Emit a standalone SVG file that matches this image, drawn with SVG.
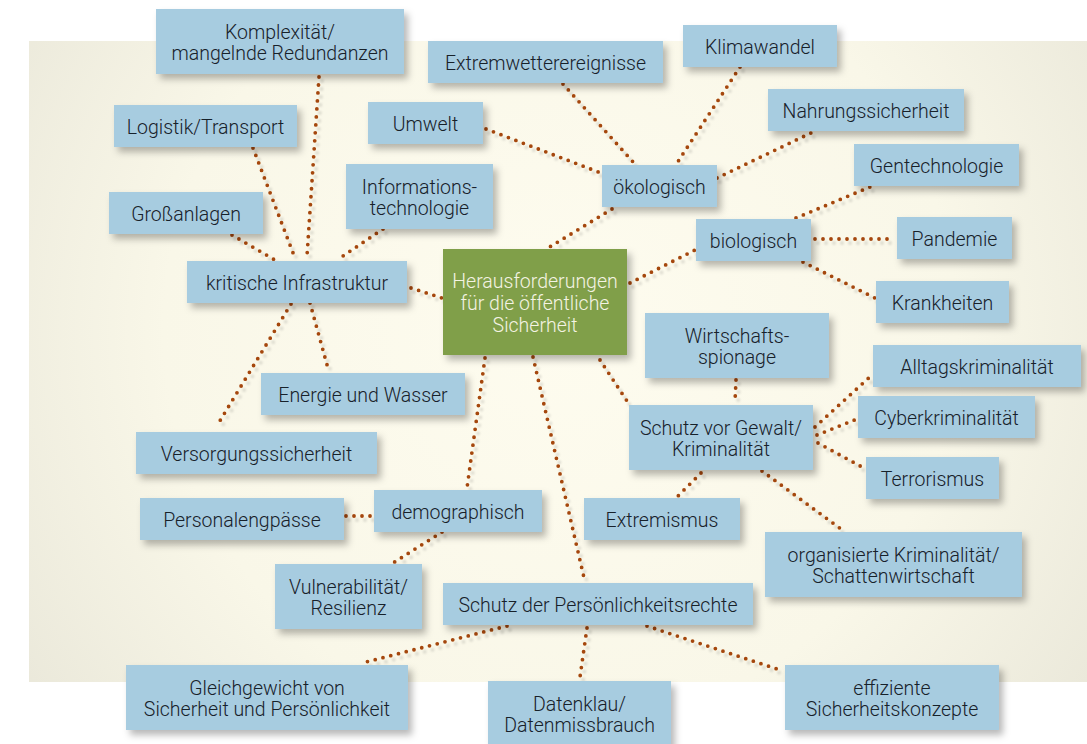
<svg xmlns="http://www.w3.org/2000/svg" width="1087" height="744" viewBox="0 0 1087 744">
<defs>
<radialGradient id="bg" cx="560" cy="330" r="720" gradientUnits="userSpaceOnUse">
<stop offset="0" stop-color="#fefcef"/>
<stop offset="0.55" stop-color="#f9f7e8"/>
<stop offset="1" stop-color="#e6e4d6"/>
</radialGradient>
<filter id="sh" x="-20%" y="-30%" width="150%" height="180%">
<feDropShadow dx="4" dy="5" stdDeviation="3.5" flood-color="#000" flood-opacity="0.28"/>
</filter>
<filter id="lsh" x="-10%" y="-10%" width="130%" height="130%">
<feDropShadow dx="3" dy="4" stdDeviation="1" flood-color="#000" flood-opacity="0.12"/>
</filter>
</defs>
<style>
.b{fill:#a7cce0}
.c{fill:#809f48}
.t{font-family:Roboto,"Liberation Sans",sans-serif;font-weight:300;font-size:19.5px;fill:#17212a;text-anchor:middle}
.w{fill:#f4f3e3}
#connectors line{stroke:#a5470c;stroke-width:3.8;stroke-linecap:round;stroke-dasharray:0 8;fill:none}
</style>
<rect x="0" y="0" width="1087" height="744" fill="#ffffff"/>
<rect x="29" y="41" width="1058" height="641" fill="url(#bg)"/>
<g id="connectors" filter="url(#lsh)">
<line x1="319" y1="77" x2="307" y2="256"/>
<line x1="253" y1="148" x2="295" y2="258"/>
<line x1="232" y1="235" x2="275" y2="260"/>
<line x1="383" y1="229" x2="340" y2="258"/>
<line x1="411" y1="288" x2="442" y2="298"/>
<line x1="310" y1="303" x2="329" y2="372"/>
<line x1="291" y1="304" x2="218" y2="424"/>
<line x1="486" y1="129" x2="601" y2="173"/>
<line x1="563" y1="84" x2="634" y2="163"/>
<line x1="740" y1="67" x2="677" y2="163"/>
<line x1="717" y1="178" x2="813" y2="132"/>
<line x1="612" y1="209" x2="548" y2="248"/>
<line x1="630" y1="283" x2="695" y2="250"/>
<line x1="796" y1="218" x2="870" y2="187"/>
<line x1="815" y1="239" x2="892" y2="239"/>
<line x1="803" y1="262" x2="875" y2="298"/>
<line x1="600" y1="360" x2="627" y2="401"/>
<line x1="736" y1="380" x2="735" y2="402"/>
<line x1="701" y1="473" x2="678" y2="496"/>
<line x1="762" y1="471" x2="841" y2="529"/>
<line x1="815" y1="427" x2="872" y2="375"/>
<line x1="817" y1="435" x2="857" y2="419"/>
<line x1="818" y1="443" x2="862" y2="467"/>
<line x1="485" y1="358" x2="467" y2="488"/>
<line x1="533" y1="357" x2="585" y2="582"/>
<line x1="370" y1="516" x2="345" y2="516"/>
<line x1="442" y1="532" x2="393" y2="563"/>
<line x1="507" y1="626" x2="362" y2="663"/>
<line x1="587" y1="628" x2="580" y2="677"/>
<line x1="647" y1="626" x2="783" y2="671"/>
</g>
<g id="komplexitaet"><rect class="b" x="156" y="9" width="248" height="65" filter="url(#sh)"/><text class="t" x="280" y="39">Komplexität/</text><text class="t" x="280" y="60">mangelnde Redundanzen</text></g>
<g id="logistik"><rect class="b" x="114" y="105" width="183" height="42" filter="url(#sh)"/><text class="t" x="205.5" y="134">Logistik/Transport</text></g>
<g id="grossanlagen"><rect class="b" x="109" y="192" width="154" height="42" filter="url(#sh)"/><text class="t" x="186" y="221">Großanlagen</text></g>
<g id="umwelt"><rect class="b" x="368" y="102" width="115" height="42" filter="url(#sh)"/><text class="t" x="425.5" y="131">Umwelt</text></g>
<g id="informationstechnologie"><rect class="b" x="346" y="164" width="147" height="65" filter="url(#sh)"/><text class="t" x="419.5" y="194">Informations-</text><text class="t" x="419.5" y="215">technologie</text></g>
<g id="kritische-infrastruktur"><rect class="b" x="187" y="261" width="220" height="42" filter="url(#sh)"/><text class="t" x="297" y="290">kritische Infrastruktur</text></g>
<g id="extremwetter"><rect class="b" x="428" y="41" width="235" height="42" filter="url(#sh)"/><text class="t" x="545.5" y="70">Extremwetterereignisse</text></g>
<g id="klimawandel"><rect class="b" x="683" y="25" width="154" height="42" filter="url(#sh)"/><text class="t" x="760" y="54">Klimawandel</text></g>
<g id="oekologisch"><rect class="b" x="602" y="165" width="115" height="42" filter="url(#sh)"/><text class="t" x="659.5" y="194">ökologisch</text></g>
<g id="center"><rect class="c" x="443" y="249" width="184" height="106" filter="url(#sh)"/><text class="t w" x="535" y="288">Herausforderungen</text><text class="t w" x="535" y="310">für die öffentliche</text><text class="t w" x="535" y="332">Sicherheit</text></g>
<g id="nahrungssicherheit"><rect class="b" x="768" y="89" width="196" height="42" filter="url(#sh)"/><text class="t" x="866" y="118">Nahrungssicherheit</text></g>
<g id="gentechnologie"><rect class="b" x="854" y="144" width="165" height="42" filter="url(#sh)"/><text class="t" x="936.5" y="173">Gentechnologie</text></g>
<g id="biologisch"><rect class="b" x="696" y="219" width="115" height="42" filter="url(#sh)"/><text class="t" x="753.5" y="248">biologisch</text></g>
<g id="pandemie"><rect class="b" x="897" y="217" width="115" height="42" filter="url(#sh)"/><text class="t" x="954.5" y="246">Pandemie</text></g>
<g id="krankheiten"><rect class="b" x="876" y="281" width="133" height="42" filter="url(#sh)"/><text class="t" x="942.5" y="310">Krankheiten</text></g>
<g id="wirtschaftsspionage"><rect class="b" x="645" y="313" width="184" height="65" filter="url(#sh)"/><text class="t" x="737" y="343">Wirtschafts-</text><text class="t" x="737" y="364">spionage</text></g>
<g id="schutz-gewalt"><rect class="b" x="629" y="405" width="184" height="65" filter="url(#sh)"/><text class="t" x="721" y="435">Schutz vor Gewalt/</text><text class="t" x="721" y="456">Kriminalität</text></g>
<g id="extremismus"><rect class="b" x="584" y="498" width="156" height="42" filter="url(#sh)"/><text class="t" x="662" y="527">Extremismus</text></g>
<g id="energie-wasser"><rect class="b" x="261" y="373" width="204" height="42" filter="url(#sh)"/><text class="t" x="363" y="402">Energie und Wasser</text></g>
<g id="versorgungssicherheit"><rect class="b" x="136" y="432" width="241" height="42" filter="url(#sh)"/><text class="t" x="256.5" y="461">Versorgungssicherheit</text></g>
<g id="demographisch"><rect class="b" x="374" y="490" width="168" height="42" filter="url(#sh)"/><text class="t" x="458" y="519">demographisch</text></g>
<g id="personalengpaesse"><rect class="b" x="140" y="498" width="204" height="42" filter="url(#sh)"/><text class="t" x="242" y="527">Personalengpässe</text></g>
<g id="alltagskriminalitaet"><rect class="b" x="873" y="345" width="208" height="42" filter="url(#sh)"/><text class="t" x="977" y="374">Alltagskriminalität</text></g>
<g id="cyberkriminalitaet"><rect class="b" x="858" y="396" width="177" height="42" filter="url(#sh)"/><text class="t" x="946.5" y="425">Cyberkriminalität</text></g>
<g id="terrorismus"><rect class="b" x="866" y="457" width="133" height="42" filter="url(#sh)"/><text class="t" x="932.5" y="486">Terrorismus</text></g>
<g id="organisierte-kriminalitaet"><rect class="b" x="765" y="532" width="257" height="65" filter="url(#sh)"/><text class="t" x="893.5" y="562">organisierte Kriminalität/</text><text class="t" x="893.5" y="583">Schattenwirtschaft</text></g>
<g id="vulnerabilitaet"><rect class="b" x="275" y="564" width="147" height="65" filter="url(#sh)"/><text class="t" x="348.5" y="594">Vulnerabilität/</text><text class="t" x="348.5" y="615">Resilienz</text></g>
<g id="persoenlichkeitsrechte"><rect class="b" x="443" y="583" width="310" height="42" filter="url(#sh)"/><text class="t" x="598" y="612">Schutz der Persönlichkeitsrechte</text></g>
<g id="gleichgewicht"><rect class="b" x="126" y="665" width="282" height="65" filter="url(#sh)"/><text class="t" x="267" y="695">Gleichgewicht von</text><text class="t" x="267" y="716">Sicherheit und Persönlichkeit</text></g>
<g id="datenklau"><rect class="b" x="488" y="681" width="183" height="70" filter="url(#sh)"/><text class="t" x="579.5" y="711">Datenklau/</text><text class="t" x="579.5" y="732">Datenmissbrauch</text></g>
<g id="effiziente"><rect class="b" x="785" y="665" width="214" height="65" filter="url(#sh)"/><text class="t" x="892" y="695">effiziente</text><text class="t" x="892" y="716">Sicherheitskonzepte</text></g>
</svg>
